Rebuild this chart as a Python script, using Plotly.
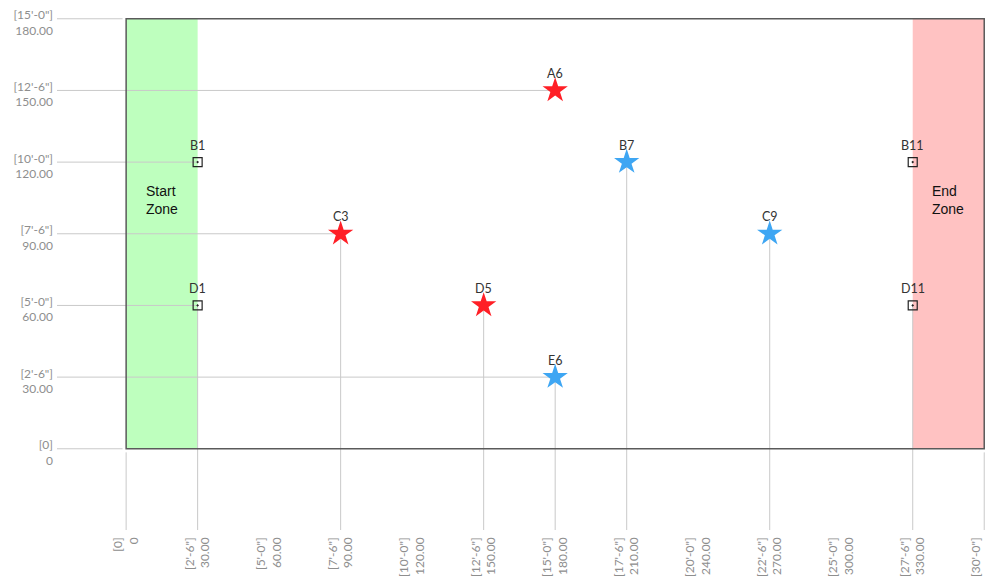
import plotly.graph_objects as go

# ---------------- data ----------------
X_MAX = 360
Y_MAX = 180

x_tick_values = [0, 30, 60, 90, 120, 150, 180, 210, 240, 270, 300, 330, 360]
x_tick_labels = ["[0]<br>0", "[2'-6\"]<br>30.00", "[5'-0\"]<br>60.00", "[7'-6\"]<br>90.00",
                 "[10'-0\"]<br>120.00", "[12'-6\"]<br>150.00", "[15'-0\"]<br>180.00",
                 "[17'-6\"]<br>210.00", "[20'-0\"]<br>240.00", "[22'-6\"]<br>270.00",
                 "[25'-0\"]<br>300.00", "[27'-6\"]<br>330.00", "[30'-0\"]<br>360.00"]
y_tick_values = [0, 30, 60, 90, 120, 150, 180]
y_tick_labels = ["[0]<br>0", "[2'-6\"]<br>30.00", "[5'-0\"]<br>60.00", "[7'-6\"]<br>90.00",
                 "[10'-0\"]<br>120.00", "[12'-6\"]<br>150.00", "[15'-0\"]<br>180.00"]

point_names = ["A6", "B1", "C3", "D1", "D5", "E6", "B7", "C9", "B11", "D11"]
point_x = [180, 30, 90, 30, 150, 180, 210, 270, 330, 330]
point_y = [150, 120, 90, 60, 60, 30, 120, 90, 120, 60]
point_kind = ["red", "square", "red", "square", "red", "blue", "blue", "blue", "square", "square"]
leader_h = [True, True, True, True, False, True, False, False, False, False]
leader_v = [False, False, True, True, True, True, True, True, False, True]

zone_labels = ["Start<br>Zone", "End<br>Zone"]
zone_x0 = [0, 330]
zone_x1 = [30, 360]
zone_label_x = [15, 345]
zone_label_y = [104, 104]
zone_colors = ["rgb(190,255,190)", "rgb(255,194,194)"]

# ---------------- styles ----------------
X_RANGE = [-29, 362]
Y_RANGE = [-34, 182]
GAP = 1.5
LEADER = dict(color="#c9c9c9", width=1)
TICK_FONT = dict(family="Lato, 'Open Sans', sans-serif", size=12, color="#8e8e8e")
LABEL_FONT = dict(family="Lato, 'Open Sans', sans-serif", size=12.5, color="#333333")

fig = go.Figure()
shapes = []

# zones
for x0, x1, c in zip(zone_x0, zone_x1, zone_colors):
    shapes.append(dict(type="rect", xref="x", yref="y", x0=x0, x1=x1, y0=0, y1=Y_MAX,
                       fillcolor=c, line=dict(width=0), layer="below"))

# boundary extension lines
for yv in [0, Y_MAX]:
    shapes.append(dict(type="line", xref="x", yref="y", x0=X_RANGE[0], x1=-GAP, y0=yv, y1=yv,
                       line=LEADER, layer="below"))
for xv in [0, X_MAX]:
    shapes.append(dict(type="line", xref="x", yref="y", x0=xv, x1=xv, y0=Y_RANGE[0], y1=-GAP,
                       line=LEADER, layer="below"))

# leader lines
for px, py, h, v in zip(point_x, point_y, leader_h, leader_v):
    if h:
        shapes.append(dict(type="line", xref="x", yref="y", x0=X_RANGE[0], x1=px, y0=py, y1=py,
                           line=LEADER, layer="below"))
    if v:
        shapes.append(dict(type="line", xref="x", yref="y", x0=px, x1=px, y0=Y_RANGE[0], y1=py,
                           line=LEADER, layer="below"))

# frame
shapes.append(dict(type="rect", xref="x", yref="y", x0=0, x1=X_MAX, y0=0, y1=Y_MAX,
                   fillcolor="rgba(0,0,0,0)", line=dict(color="#5a5a5a", width=1.5), layer="below"))

marker_styles = {
    "red": dict(symbol="star", size=19, color="#ff1f26", line=dict(width=0)),
    "blue": dict(symbol="star", size=19, color="#3ea6f3", line=dict(width=0)),
    "square": dict(symbol="square-open-dot", size=9, color="#222222", line=dict(width=1.2)),
}
for kind in ["square", "red", "blue"]:
    xs = [x for x, k in zip(point_x, point_kind) if k == kind]
    ys = [y for y, k in zip(point_y, point_kind) if k == kind]
    fig.add_trace(go.Scatter(x=xs, y=ys, mode="markers", marker=marker_styles[kind],
                             hoverinfo="skip", showlegend=False, cliponaxis=False))

annotations = []
for name, px, py in zip(point_names, point_x, point_y):
    annotations.append(dict(x=px, y=py, xref="x", yref="y", text=name, showarrow=False,
                            yshift=17, font=LABEL_FONT))
for t, zx, zy in zip(zone_labels, zone_label_x, zone_label_y):
    annotations.append(dict(x=zx, y=zy, xref="x", yref="y", text=t, showarrow=False,
                            align="left", font=dict(family="Liberation Sans, Arial, sans-serif",
                                                    size=14, color="#111111")))

fig.update_layout(
    width=986, height=571,
    margin=dict(l=49, r=5, t=6, b=49, autoexpand=False),
    paper_bgcolor="white", plot_bgcolor="white",
    shapes=shapes, annotations=annotations,
    showlegend=False,
    xaxis=dict(range=X_RANGE, showgrid=False, zeroline=False, showline=False, automargin=False,
               tickmode="array", tickvals=x_tick_values, ticktext=x_tick_labels,
               tickangle=-90, tickfont=TICK_FONT, ticks="", ticklabelstandoff=4,
               ticklabeloverflow="allow", fixedrange=True),
    yaxis=dict(range=Y_RANGE, showgrid=False, zeroline=False, showline=False, automargin=False,
               tickmode="array", tickvals=y_tick_values, ticktext=y_tick_labels,
               tickfont=TICK_FONT, ticks="", ticklabelstandoff=3, ticklabelshift=4,
               ticklabeloverflow="allow", fixedrange=True),
)

fig.write_html("out.html")
